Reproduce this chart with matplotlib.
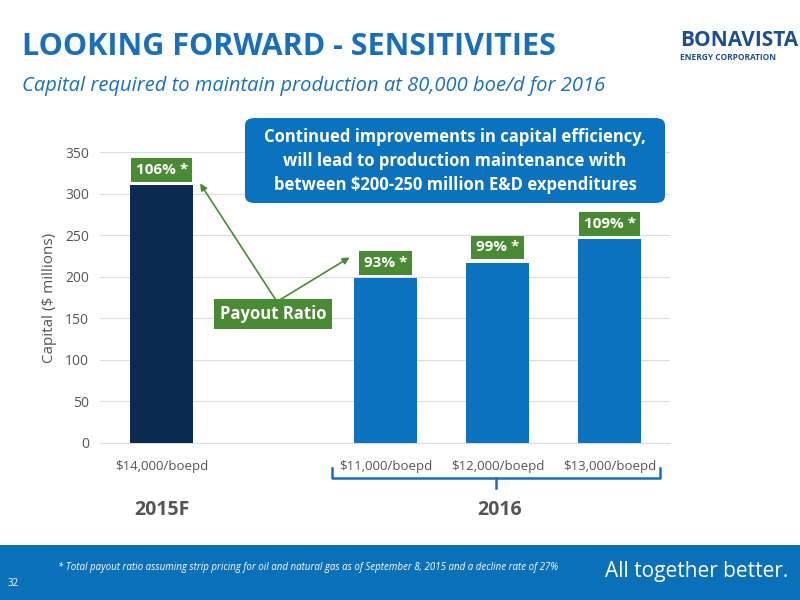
import matplotlib
matplotlib.use("Agg")
import matplotlib.pyplot as plt
from matplotlib.patches import Rectangle, FancyBboxPatch

categories = ["$14,000/boepd", "$11,000/boepd", "$12,000/boepd", "$13,000/boepd"]
values = [310, 198, 217, 245]
payout = ["106% *", "93% *", "99% *", "109% *"]
positions = [0, 2, 3, 4]
colors = ["#0b2a52", "#0a72bf", "#0a72bf", "#0a72bf"]
yticks = [0, 50, 100, 150, 200, 250, 300, 350]

plt.rcParams['font.family'] = ['Open Sans', 'DejaVu Sans']
fig = plt.figure(figsize=(8, 6), dpi=100)
W, H = 800, 600
def fx(px): return px / W
def fy(py): return 1 - py / H

ax = fig.add_axes([fx(100), fy(443), fx(670) - fx(100), fy(152) - fy(443)])
ax.bar(positions, values, width=0.56, color=colors, zorder=3)
ax.set_ylim(0, 350)
ax.set_xlim(-0.55, 4.54)
ax.set_yticks(yticks)
ax.set_yticklabels([str(t) for t in yticks], fontsize=10, color="#555555")
ax.set_xticks(positions)
ax.set_xticklabels(categories, fontsize=9.5, color="#555555")
ax.tick_params(length=0, pad=8)
ax.tick_params(axis='x', pad=12)
ax.grid(axis='y', color="#dddddd", lw=0.8, zorder=0)
for s in ax.spines.values():
    s.set_visible(False)
ax.spines['bottom'].set_visible(True)
ax.spines['bottom'].set_color("#dddddd")
ax.set_ylabel("Capital ($ millions)", fontsize=11, color="#555555", labelpad=6)

green = "#4a8a35"
for x, v, p in zip(positions, values, payout):
    ax.text(x, v + 10, p, ha='center', va='bottom', fontsize=11, fontweight='bold',
            color='white', zorder=5,
            bbox=dict(boxstyle='square,pad=0.3', fc=green, ec='none'))

ax.annotate("", xy=(0.33, 315), xytext=(1.03, 170),
            arrowprops=dict(arrowstyle='-|>', color=green, lw=1.2))
ax.annotate("", xy=(1.7, 225), xytext=(1.03, 170),
            arrowprops=dict(arrowstyle='-|>', color=green, lw=1.2))
fig.text(fx(273), fy(314), "Payout Ratio", ha='center', va='center', fontsize=12,
         fontweight='bold', color='white',
         bbox=dict(boxstyle='square,pad=0.35', fc=green, ec='none'))

fig.patches.append(FancyBboxPatch((fx(245), fy(203)), fx(665) - fx(245), fy(118) - fy(203),
                                  boxstyle='round,pad=0,rounding_size=0.012',
                                  transform=fig.transFigure, fc="#0a72bf", ec='none'))
fig.text(fx(455), fy(161), "Continued improvements in capital efficiency,\nwill lead to production maintenance with\nbetween $200-250 million E&D expenditures",
         ha='center', va='center', fontsize=12, fontweight='bold', color='white', linespacing=1.4)

fig.text(fx(22), fy(47), "LOOKING FORWARD - SENSITIVITIES", fontsize=22, fontweight='bold',
         color="#1a6fbd", va='center')
fig.text(fx(22), fy(86), "Capital required to maintain production at 80,000 boe/d for 2016",
         fontsize=14.5, style='italic', color="#1a6fbd", va='center')
fig.text(fx(680), fy(40), "BONAVISTA", fontsize=15, fontweight='bold', color="#1b4f8f", va='center')
fig.text(fx(680), fy(58), "ENERGY CORPORATION", fontsize=6, fontweight='bold', color="#1b4f8f", va='center')

bx = [fx(332), fx(332), fx(660), fx(660)]
by = [fy(468), fy(478), fy(478), fy(468)]
fig.add_artist(plt.Line2D(bx, by, color="#1a6fbd", lw=1.8))
fig.add_artist(plt.Line2D([fx(496), fx(496)], [fy(478), fy(488)], color="#1a6fbd", lw=1.8))
fig.text(fx(162), fy(510), "2015F", ha='center', va='center', fontsize=14, fontweight='bold', color="#555555")
fig.text(fx(500), fy(510), "2016", ha='center', va='center', fontsize=14, fontweight='bold', color="#555555")

fig.patches.append(Rectangle((0, 0), 1, fy(545), transform=fig.transFigure, fc="#0a70b8", ec='none'))
fig.text(fx(58), fy(567), "* Total payout ratio assuming strip pricing for oil and natural gas as of September 8, 2015 and a decline rate of 27%",
         fontsize=7, style='italic', color='white', va='center')
fig.text(fx(8), fy(583), "32", fontsize=7, color='white', va='center')
fig.text(fx(605), fy(571), "All together better.", fontsize=15, color='white', va='center')

fig.savefig("out.png", dpi=100)
